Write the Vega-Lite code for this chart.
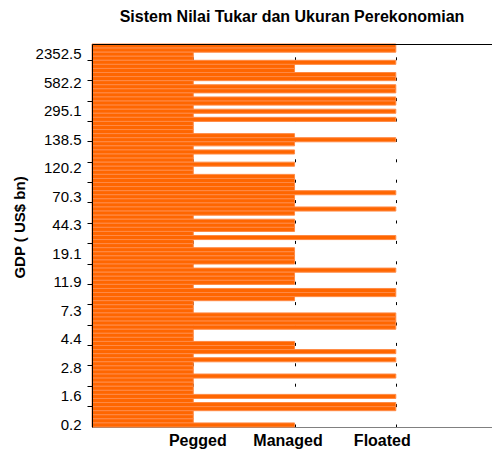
{
  "$schema": "https://vega.github.io/schema/vega-lite/v6.json",
  "autosize": "none",
  "width": 400,
  "height": 383,
  "padding": {"left": 92, "top": 44, "right": 0, "bottom": 28},
  "background": "white",
  "config": {"view": {"stroke": null}, "font": "Liberation Sans"},
  "title": {
    "text": "Sistem Nilai Tukar dan Ukuran Perekonomian",
    "font": "Liberation Sans",
    "fontSize": 16,
    "fontWeight": "bold",
    "color": "black",
    "anchor": "middle",
    "frame": "group",
    "baseline": "alphabetic",
    "offset": 5
  },
  "data": {
    "values": [
      {"gdp": 9872.9, "regime": "Floated", "level": 3},
      {"gdp": 4841.6, "regime": "Floated", "level": 3},
      {"gdp": 2352.5, "regime": "Pegged", "level": 1},
      {"gdp": 1414.6, "regime": "Pegged", "level": 1},
      {"gdp": 1294.2, "regime": "Floated", "level": 3},
      {"gdp": 1089.9, "regime": "Managed", "level": 2},
      {"gdp": 945.7, "regime": "Managed", "level": 2},
      {"gdp": 694.5, "regime": "Floated", "level": 3},
      {"gdp": 641.3, "regime": "Floated", "level": 3},
      {"gdp": 582.2, "regime": "Pegged", "level": 1},
      {"gdp": 530.4, "regime": "Floated", "level": 3},
      {"gdp": 458.2, "regime": "Floated", "level": 3},
      {"gdp": 412.8, "regime": "Pegged", "level": 1},
      {"gdp": 376.9, "regime": "Floated", "level": 3},
      {"gdp": 351.3, "regime": "Floated", "level": 3},
      {"gdp": 310.6, "regime": "Pegged", "level": 1},
      {"gdp": 295.1, "regime": "Floated", "level": 3},
      {"gdp": 272.4, "regime": "Pegged", "level": 1},
      {"gdp": 241.5, "regime": "Floated", "level": 3},
      {"gdp": 205.8, "regime": "Pegged", "level": 1},
      {"gdp": 187.2, "regime": "Pegged", "level": 1},
      {"gdp": 163.9, "regime": "Pegged", "level": 1},
      {"gdp": 150.1, "regime": "Managed", "level": 2},
      {"gdp": 138.5, "regime": "Floated", "level": 3},
      {"gdp": 136.2, "regime": "Managed", "level": 2},
      {"gdp": 133.7, "regime": "Pegged", "level": 1},
      {"gdp": 130.5, "regime": "Managed", "level": 2},
      {"gdp": 127.6, "regime": "Pegged", "level": 1},
      {"gdp": 125.1, "regime": "Pegged", "level": 1},
      {"gdp": 122.8, "regime": "Managed", "level": 2},
      {"gdp": 120.2, "regime": "Pegged", "level": 1},
      {"gdp": 112.9, "regime": "Pegged", "level": 1},
      {"gdp": 104.6, "regime": "Managed", "level": 2},
      {"gdp": 96.3, "regime": "Managed", "level": 2},
      {"gdp": 88.1, "regime": "Managed", "level": 2},
      {"gdp": 80.7, "regime": "Managed", "level": 2},
      {"gdp": 74.5, "regime": "Floated", "level": 3},
      {"gdp": 70.3, "regime": "Managed", "level": 2},
      {"gdp": 66.9, "regime": "Managed", "level": 2},
      {"gdp": 62.4, "regime": "Managed", "level": 2},
      {"gdp": 57.8, "regime": "Floated", "level": 3},
      {"gdp": 53.2, "regime": "Managed", "level": 2},
      {"gdp": 49.6, "regime": "Pegged", "level": 1},
      {"gdp": 46.1, "regime": "Managed", "level": 2},
      {"gdp": 44.3, "regime": "Managed", "level": 2},
      {"gdp": 40.8, "regime": "Managed", "level": 2},
      {"gdp": 36.2, "regime": "Pegged", "level": 1},
      {"gdp": 31.5, "regime": "Floated", "level": 3},
      {"gdp": 27.4, "regime": "Pegged", "level": 1},
      {"gdp": 23.9, "regime": "Pegged", "level": 1},
      {"gdp": 21.2, "regime": "Managed", "level": 2},
      {"gdp": 19.1, "regime": "Managed", "level": 2},
      {"gdp": 18.2, "regime": "Managed", "level": 2},
      {"gdp": 17.0, "regime": "Managed", "level": 2},
      {"gdp": 15.8, "regime": "Pegged", "level": 1},
      {"gdp": 14.6, "regime": "Floated", "level": 3},
      {"gdp": 13.7, "regime": "Managed", "level": 2},
      {"gdp": 12.8, "regime": "Managed", "level": 2},
      {"gdp": 11.9, "regime": "Managed", "level": 2},
      {"gdp": 11.2, "regime": "Pegged", "level": 1},
      {"gdp": 10.4, "regime": "Floated", "level": 3},
      {"gdp": 9.7, "regime": "Floated", "level": 3},
      {"gdp": 8.9, "regime": "Managed", "level": 2},
      {"gdp": 8.3, "regime": "Pegged", "level": 1},
      {"gdp": 7.8, "regime": "Pegged", "level": 1},
      {"gdp": 7.3, "regime": "Pegged", "level": 1},
      {"gdp": 6.9, "regime": "Floated", "level": 3},
      {"gdp": 6.4, "regime": "Floated", "level": 3},
      {"gdp": 5.9, "regime": "Floated", "level": 3},
      {"gdp": 5.5, "regime": "Floated", "level": 3},
      {"gdp": 5.1, "regime": "Pegged", "level": 1},
      {"gdp": 4.7, "regime": "Pegged", "level": 1},
      {"gdp": 4.4, "regime": "Pegged", "level": 1},
      {"gdp": 4.2, "regime": "Managed", "level": 2},
      {"gdp": 3.9, "regime": "Managed", "level": 2},
      {"gdp": 3.6, "regime": "Floated", "level": 3},
      {"gdp": 3.4, "regime": "Pegged", "level": 1},
      {"gdp": 3.2, "regime": "Floated", "level": 3},
      {"gdp": 3.0, "regime": "Pegged", "level": 1},
      {"gdp": 2.8, "regime": "Pegged", "level": 1},
      {"gdp": 2.6, "regime": "Pegged", "level": 1},
      {"gdp": 2.4, "regime": "Floated", "level": 3},
      {"gdp": 2.2, "regime": "Pegged", "level": 1},
      {"gdp": 2.0, "regime": "Pegged", "level": 1},
      {"gdp": 1.9, "regime": "Pegged", "level": 1},
      {"gdp": 1.7, "regime": "Pegged", "level": 1},
      {"gdp": 1.6, "regime": "Floated", "level": 3},
      {"gdp": 1.4, "regime": "Pegged", "level": 1},
      {"gdp": 1.2, "regime": "Floated", "level": 3},
      {"gdp": 1.0, "regime": "Floated", "level": 3},
      {"gdp": 0.8, "regime": "Pegged", "level": 1},
      {"gdp": 0.6, "regime": "Pegged", "level": 1},
      {"gdp": 0.4, "regime": "Pegged", "level": 1},
      {"gdp": 0.2, "regime": "Managed", "level": 2}
    ]
  },
  "layer": [
    {
      "mark": {"type": "bar", "color": "#FF6600", "stroke": "#FF8A45", "strokeWidth": 1},
      "encoding": {
        "x": {
          "field": "level",
          "type": "quantitative",
          "scale": {"domain": [0, 3.95], "nice": false, "zero": true},
          "axis": {
            "orient": "bottom",
            "title": null,
            "values": [1, 2, 3],
            "labelExpr": "datum.value == 1 ? 'Pegged' : datum.value == 2 ? 'Managed' : 'Floated'",
            "labelFont": "Liberation Sans",
            "labelFontSize": 16,
            "labelFontWeight": "bold",
            "labelColor": "black",
            "labelPadding": 5,
            "labelOffset": {
              "condition": [
                {"test": "datum.value == 1", "value": 4},
                {"test": "datum.value == 2", "value": -7}
              ],
              "value": -14
            },
            "ticks": false,
            "domain": true,
            "domainColor": "#808080",
            "domainWidth": 1,
            "grid": true,
            "gridColor": "black",
            "gridWidth": 1,
            "gridDash": [3, 17.4],
            "gridOpacity": 1,
            "zindex": 0
          }
        },
        "y": {
          "field": "gdp",
          "type": "ordinal",
          "sort": "descending",
          "scale": {"paddingInner": 0, "paddingOuter": 0},
          "axis": {
            "orient": "left",
            "title": "GDP ( US$ bn)",
            "titleFont": "Liberation Sans",
            "titleFontSize": 15,
            "titleFontWeight": "bold",
            "titleColor": "black",
            "titleAngle": 270,
            "titleAlign": "center",
            "titleBaseline": "middle",
            "titleX": -73,
            "titleY": 183,
            "values": [2352.5, 582.2, 295.1, 138.5, 120.2, 70.3, 44.3, 19.1, 11.9, 7.3, 4.4, 2.8, 1.6, 0.2],
            "labelFont": "Liberation Sans",
            "labelFontSize": 15,
            "labelColor": "black",
            "labelPadding": 11,
            "labelOverlap": false,
            "ticks": false,
            "domain": true,
            "domainColor": "black",
            "domainWidth": 1,
            "grid": false,
            "zindex": 1
          }
        }
      }
    },
    {
      "mark": {"type": "point", "opacity": 0},
      "encoding": {
        "x": {
          "field": "level",
          "type": "quantitative",
          "axis": {
            "orient": "top",
            "title": null,
            "labels": false,
            "ticks": false,
            "grid": false,
            "domain": true,
            "domainColor": "black",
            "domainWidth": 1,
            "zindex": 1
          }
        },
        "y": {
          "field": "gdp",
          "type": "ordinal",
          "sort": "descending",
          "axis": {
            "orient": "left",
            "title": null,
            "values": [1414.6, 641.3, 376.9, 241.5, 138.5, 125.1, 96.3, 66.9, 46.1, 27.4, 17.0, 11.9, 8.3, 5.9, 4.2, 3.0, 2.0, 1.2],
            "bandPosition": 1,
            "labels": false,
            "domain": false,
            "grid": false,
            "ticks": true,
            "tickSize": 5,
            "tickColor": "black",
            "tickWidth": 1,
            "zindex": 1
          }
        }
      }
    }
  ],
  "resolve": {"axis": {"x": "independent", "y": "independent"}}
}
